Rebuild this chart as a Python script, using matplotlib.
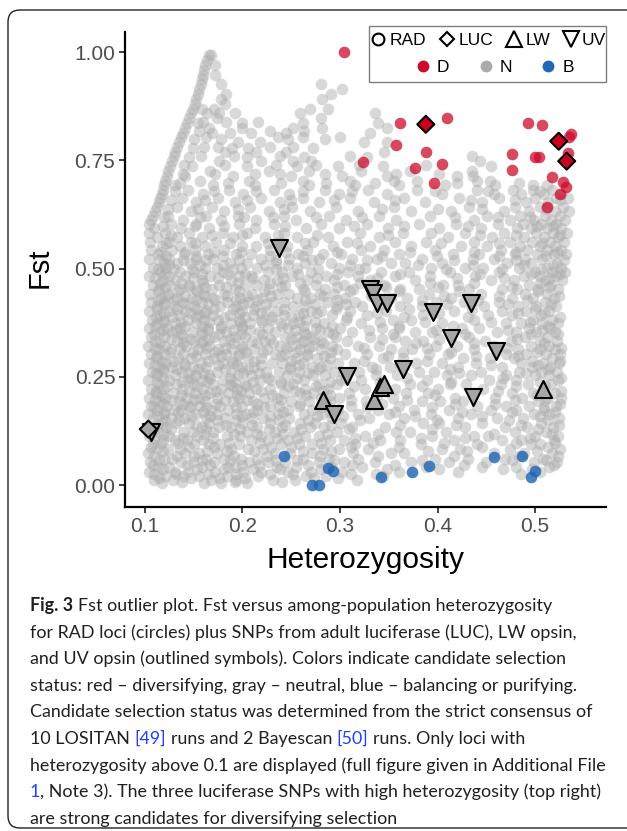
import matplotlib
matplotlib.use('Agg')
import matplotlib.pyplot as plt
from matplotlib.lines import Line2D
from matplotlib.patches import FancyBboxPatch, Rectangle
from matplotlib.transforms import IdentityTransform

# ---- data ----
# red (D) RAD loci
red_x = [0.3041, 0.3615, 0.4094, 0.3574, 0.3882, 0.3233, 0.3766, 0.4049, 0.3964,
         0.4925, 0.5075, 0.5369, 0.4761, 0.5003, 0.5038, 0.5335, 0.4761, 0.5177,
         0.5284, 0.5315, 0.5259, 0.5123, 0.5349]
red_y = [1.000, 0.835, 0.848, 0.785, 0.768, 0.746, 0.732, 0.741, 0.698,
         0.837, 0.831, 0.810, 0.764, 0.757, 0.758, 0.766, 0.727, 0.711,
         0.700, 0.689, 0.672, 0.641, 0.804]

# blue (B) RAD loci
blue_x = [0.2426, 0.2716, 0.2788, 0.2874, 0.2925, 0.3417, 0.3738, 0.3916, 0.4579,
          0.4870, 0.4997, 0.4959]
blue_y = [0.068, 0.001, 0.001, 0.039, 0.032, 0.018, 0.030, 0.044, 0.065,
          0.068, 0.033, 0.019]

# luciferase SNPs (diamonds)
luc_x = [0.388, 0.5243, 0.5325, 0.1034]
luc_y = [0.833, 0.794, 0.748, 0.129]
luc_status = ['D', 'D', 'D', 'N']

# LW opsin SNPs (up triangles)
lw_x = [0.2822, 0.3349, 0.3415, 0.3455, 0.5085]
lw_y = [0.197, 0.196, 0.227, 0.233, 0.222]

# UV opsin SNPs (down triangles)
uv_x = [0.2374, 0.3308, 0.3342, 0.3376, 0.3479, 0.3957, 0.4347, 0.4138, 0.4600,
        0.3643, 0.3075, 0.4361, 0.2938, 0.1060]
uv_y = [0.548, 0.453, 0.443, 0.420, 0.420, 0.400, 0.420, 0.339, 0.310,
        0.267, 0.252, 0.204, 0.165, 0.122]

# gray (N) RAD loci, one row of x values per Fst level
gray_rows = [
    (0.004, [0.117, 0.161, 0.178, 0.205]),
    (0.012, [0.109, 0.129, 0.168, 0.193, 0.231, 0.254, 0.317]),
    (0.021, [0.121, 0.139, 0.155, 0.184, 0.216, 0.265, 0.286, 0.344]),
    (0.031, [0.104, 0.131, 0.144, 0.172, 0.201, 0.219, 0.247, 0.270, 0.302, 0.361, 0.421, 0.505]),
    (0.041, [0.113, 0.125, 0.158, 0.185, 0.192, 0.235, 0.255, 0.291, 0.323, 0.388, 0.446, 0.481, 0.514]),
    (0.052, [0.105, 0.137, 0.149, 0.171, 0.207, 0.226, 0.244, 0.278, 0.304, 0.336, 0.373, 0.412, 0.450, 0.499, 0.523]),
    (0.061, [0.119, 0.128, 0.163, 0.181, 0.198, 0.215, 0.262, 0.289, 0.318, 0.397, 0.431, 0.469, 0.508]),
    (0.073, [0.103, 0.141, 0.155, 0.174, 0.233, 0.249, 0.271, 0.313, 0.352, 0.366, 0.458, 0.489, 0.517]),
    (0.082, [0.112, 0.124, 0.136, 0.188, 0.206, 0.221, 0.283, 0.299, 0.329, 0.405, 0.423, 0.474, 0.526]),
    (0.094, [0.108, 0.150, 0.166, 0.177, 0.196, 0.239, 0.258, 0.271, 0.315, 0.383, 0.441, 0.496, 0.505]),
    (0.103, [0.118, 0.131, 0.143, 0.160, 0.209, 0.226, 0.247, 0.290, 0.304, 0.341, 0.362, 0.417, 0.466, 0.486, 0.519]),
    (0.114, [0.104, 0.125, 0.153, 0.184, 0.197, 0.219, 0.264, 0.278, 0.326, 0.394, 0.437, 0.452, 0.500, 0.524]),
    (0.123, [0.113, 0.139, 0.149, 0.170, 0.205, 0.233, 0.253, 0.297, 0.357, 0.372, 0.409, 0.479, 0.511]),
    (0.134, [0.106, 0.122, 0.158, 0.176, 0.188, 0.215, 0.241, 0.269, 0.284, 0.312, 0.346, 0.428, 0.469, 0.492, 0.518]),
    (0.143, [0.117, 0.132, 0.145, 0.166, 0.199, 0.228, 0.259, 0.274, 0.301, 0.385, 0.402, 0.446, 0.506]),
    (0.154, [0.108, 0.127, 0.141, 0.163, 0.182, 0.210, 0.221, 0.248, 0.292, 0.330, 0.366, 0.421, 0.461, 0.488, 0.525]),
    (0.163, [0.103, 0.119, 0.152, 0.174, 0.193, 0.204, 0.236, 0.263, 0.282, 0.318, 0.350, 0.393, 0.434, 0.499, 0.514]),
    (0.174, [0.112, 0.130, 0.137, 0.168, 0.185, 0.215, 0.247, 0.271, 0.298, 0.339, 0.376, 0.412, 0.455, 0.481, 0.509]),
    (0.183, [0.106, 0.123, 0.147, 0.156, 0.177, 0.200, 0.228, 0.237, 0.258, 0.311, 0.361, 0.440, 0.470, 0.494, 0.522]),
    (0.193, [0.115, 0.135, 0.162, 0.190, 0.211, 0.250, 0.268, 0.290, 0.327, 0.384, 0.403, 0.426, 0.503]),
    (0.202, [0.104, 0.121, 0.143, 0.155, 0.174, 0.196, 0.222, 0.235, 0.281, 0.299, 0.354, 0.418, 0.459, 0.487, 0.513, 0.527]),
    (0.213, [0.111, 0.129, 0.151, 0.167, 0.185, 0.207, 0.243, 0.259, 0.272, 0.309, 0.368, 0.390, 0.437, 0.476, 0.498, 0.520]),
    (0.222, [0.106, 0.118, 0.138, 0.160, 0.178, 0.194, 0.214, 0.228, 0.264, 0.288, 0.326, 0.356, 0.400, 0.447, 0.508]),
    (0.233, [0.114, 0.133, 0.149, 0.170, 0.187, 0.203, 0.239, 0.252, 0.278, 0.297, 0.372, 0.413, 0.429, 0.465, 0.493, 0.516]),
    (0.242, [0.103, 0.125, 0.144, 0.158, 0.180, 0.218, 0.229, 0.263, 0.301, 0.322, 0.389, 0.453, 0.481, 0.524]),
    (0.253, [0.112, 0.131, 0.152, 0.166, 0.195, 0.209, 0.246, 0.272, 0.285, 0.337, 0.358, 0.410, 0.434, 0.470, 0.500, 0.514]),
    (0.262, [0.107, 0.120, 0.138, 0.174, 0.188, 0.224, 0.237, 0.258, 0.294, 0.319, 0.381, 0.396, 0.445, 0.484, 0.506, 0.523]),
    (0.273, [0.115, 0.128, 0.149, 0.163, 0.199, 0.212, 0.249, 0.271, 0.281, 0.333, 0.351, 0.421, 0.466, 0.497, 0.515]),
    (0.282, [0.104, 0.122, 0.140, 0.157, 0.180, 0.190, 0.230, 0.241, 0.262, 0.298, 0.314, 0.378, 0.405, 0.439, 0.486, 0.508, 0.525]),
    (0.293, [0.111, 0.134, 0.147, 0.171, 0.206, 0.219, 0.255, 0.276, 0.290, 0.344, 0.365, 0.426, 0.454, 0.478, 0.517]),
    (0.302, [0.106, 0.119, 0.139, 0.162, 0.183, 0.196, 0.233, 0.244, 0.266, 0.305, 0.328, 0.391, 0.411, 0.470, 0.491, 0.511, 0.526]),
    (0.313, [0.114, 0.127, 0.154, 0.175, 0.189, 0.212, 0.225, 0.259, 0.280, 0.297, 0.352, 0.374, 0.437, 0.483, 0.505, 0.520]),
    (0.322, [0.103, 0.121, 0.142, 0.166, 0.200, 0.238, 0.250, 0.271, 0.292, 0.318, 0.340, 0.398, 0.420, 0.458, 0.496, 0.514]),
    (0.333, [0.110, 0.133, 0.150, 0.160, 0.181, 0.210, 0.222, 0.262, 0.280, 0.307, 0.367, 0.385, 0.449, 0.475, 0.505, 0.523]),
    (0.342, [0.106, 0.119, 0.139, 0.171, 0.192, 0.203, 0.244, 0.255, 0.270, 0.296, 0.331, 0.356, 0.414, 0.432, 0.490, 0.512]),
    (0.353, [0.115, 0.128, 0.148, 0.157, 0.183, 0.217, 0.233, 0.263, 0.288, 0.312, 0.377, 0.394, 0.461, 0.481, 0.501, 0.521]),
    (0.362, [0.104, 0.123, 0.136, 0.165, 0.178, 0.199, 0.226, 0.247, 0.275, 0.300, 0.343, 0.360, 0.425, 0.443, 0.494, 0.515]),
    (0.373, [0.112, 0.131, 0.152, 0.188, 0.208, 0.239, 0.252, 0.284, 0.322, 0.405, 0.470, 0.486, 0.507, 0.524]),
    (0.382, [0.107, 0.120, 0.144, 0.161, 0.175, 0.196, 0.219, 0.229, 0.265, 0.306, 0.354, 0.373, 0.437, 0.498, 0.517]),
    (0.393, [0.115, 0.135, 0.155, 0.170, 0.187, 0.211, 0.243, 0.258, 0.292, 0.328, 0.385, 0.452, 0.476, 0.506]),
    (0.402, [0.104, 0.125, 0.141, 0.163, 0.200, 0.224, 0.235, 0.270, 0.281, 0.310, 0.347, 0.417, 0.466, 0.491, 0.514]),
    (0.413, [0.112, 0.130, 0.150, 0.177, 0.193, 0.214, 0.252, 0.263, 0.297, 0.323, 0.362, 0.384, 0.448, 0.483, 0.501, 0.522]),
    (0.422, [0.106, 0.120, 0.139, 0.158, 0.184, 0.206, 0.231, 0.243, 0.287, 0.315, 0.398, 0.427, 0.463, 0.510]),
    (0.433, [0.116, 0.133, 0.148, 0.170, 0.197, 0.220, 0.256, 0.270, 0.305, 0.352, 0.369, 0.414, 0.476, 0.498, 0.519]),
    (0.442, [0.105, 0.124, 0.160, 0.181, 0.210, 0.236, 0.248, 0.279, 0.294, 0.333, 0.391, 0.445, 0.490, 0.512]),
    (0.453, [0.114, 0.136, 0.152, 0.169, 0.192, 0.227, 0.262, 0.285, 0.313, 0.362, 0.381, 0.432, 0.466, 0.482, 0.503, 0.524]),
    (0.462, [0.108, 0.126, 0.145, 0.176, 0.203, 0.214, 0.244, 0.275, 0.304, 0.345, 0.406, 0.421, 0.494, 0.516]),
    (0.473, [0.118, 0.131, 0.158, 0.188, 0.222, 0.235, 0.266, 0.294, 0.331, 0.377, 0.455, 0.478, 0.510, 0.528]),
    (0.482, [0.104, 0.125, 0.141, 0.167, 0.196, 0.209, 0.251, 0.286, 0.318, 0.356, 0.392, 0.438, 0.489, 0.505, 0.522]),
    (0.493, [0.115, 0.136, 0.150, 0.180, 0.226, 0.241, 0.270, 0.308, 0.342, 0.371, 0.413, 0.463, 0.500, 0.517, 0.531]),
    (0.502, [0.108, 0.121, 0.162, 0.174, 0.198, 0.215, 0.256, 0.299, 0.326, 0.393, 0.428, 0.447, 0.484, 0.512, 0.527]),
    (0.513, [0.119, 0.133, 0.146, 0.187, 0.205, 0.234, 0.264, 0.291, 0.352, 0.367, 0.405, 0.471, 0.496, 0.523]),
    (0.522, [0.104, 0.125, 0.152, 0.170, 0.219, 0.248, 0.278, 0.312, 0.338, 0.384, 0.436, 0.458, 0.490, 0.507]),
    (0.533, [0.113, 0.140, 0.165, 0.193, 0.209, 0.257, 0.283, 0.301, 0.360, 0.416, 0.443, 0.479, 0.502, 0.519, 0.532]),
    (0.542, [0.106, 0.128, 0.151, 0.181, 0.228, 0.266, 0.322, 0.345, 0.397, 0.465, 0.492, 0.512, 0.527]),
    (0.553, [0.117, 0.136, 0.162, 0.199, 0.214, 0.246, 0.293, 0.331, 0.373, 0.424, 0.451, 0.485, 0.505, 0.521]),
    (0.562, [0.105, 0.125, 0.147, 0.173, 0.237, 0.272, 0.307, 0.356, 0.388, 0.437, 0.474, 0.497, 0.515, 0.530]),
    (0.573, [0.112, 0.133, 0.158, 0.190, 0.223, 0.256, 0.288, 0.340, 0.411, 0.456, 0.489, 0.509, 0.524]),
    (0.582, [0.104, 0.121, 0.145, 0.180, 0.205, 0.243, 0.320, 0.365, 0.393, 0.428, 0.468, 0.501, 0.518, 0.533]),
    (0.593, [0.109, 0.137, 0.166, 0.213, 0.265, 0.299, 0.349, 0.402, 0.445, 0.482, 0.496, 0.512, 0.527]),
    (0.603, [0.104, 0.127, 0.152, 0.196, 0.232, 0.281, 0.328, 0.381, 0.419, 0.462, 0.488, 0.506, 0.522]),
    (0.613, [0.106, 0.139, 0.178, 0.214, 0.255, 0.306, 0.357, 0.437, 0.474, 0.499, 0.516, 0.531]),
    (0.622, [0.108, 0.124, 0.163, 0.195, 0.243, 0.289, 0.340, 0.392, 0.451, 0.485, 0.510, 0.526]),
    (0.633, [0.110, 0.147, 0.181, 0.227, 0.269, 0.318, 0.373, 0.414, 0.468, 0.494, 0.520, 0.535]),
    (0.642, [0.112, 0.133, 0.169, 0.208, 0.251, 0.296, 0.355, 0.432, 0.479, 0.505, 0.529]),
    (0.653, [0.114, 0.152, 0.192, 0.238, 0.278, 0.335, 0.387, 0.446, 0.491, 0.513]),
    (0.662, [0.115, 0.138, 0.175, 0.219, 0.262, 0.310, 0.366, 0.422, 0.463, 0.500, 0.522, 0.534]),
    (0.673, [0.117, 0.159, 0.201, 0.248, 0.299, 0.348, 0.405, 0.458, 0.486, 0.509, 0.527]),
    (0.682, [0.118, 0.144, 0.186, 0.232, 0.285, 0.329, 0.379, 0.440, 0.477, 0.498, 0.517]),
    (0.693, [0.120, 0.131, 0.170, 0.213, 0.268, 0.315, 0.361, 0.408, 0.459, 0.498, 0.512]),
    (0.703, [0.121, 0.156, 0.207, 0.262, 0.310, 0.355, 0.379, 0.440, 0.454]),
    (0.714, [0.123, 0.141, 0.190, 0.250, 0.302, 0.348, 0.420, 0.436]),
    (0.725, [0.124, 0.167, 0.227, 0.268, 0.322, 0.372, 0.435]),
    (0.737, [0.126, 0.148, 0.205, 0.256, 0.298, 0.344, 0.455]),
    (0.748, [0.128, 0.176, 0.219, 0.252, 0.270, 0.444]),
    (0.759, [0.130, 0.157, 0.191, 0.238, 0.310, 0.435]),
    (0.770, [0.131, 0.182, 0.214, 0.245, 0.345]),
    (0.781, [0.133, 0.161, 0.175, 0.228, 0.252]),
    (0.792, [0.135, 0.195, 0.218, 0.325, 0.348]),
    (0.803, [0.137, 0.163, 0.236, 0.262, 0.300]),
    (0.814, [0.139, 0.169, 0.187, 0.209, 0.245, 0.331]),
    (0.825, [0.141, 0.166, 0.200, 0.252, 0.282, 0.348]),
    (0.836, [0.143, 0.154, 0.199, 0.262, 0.339]),
    (0.847, [0.145, 0.174, 0.281]),
    (0.858, [0.147, 0.192, 0.259, 0.336]),
    (0.869, [0.149, 0.158, 0.171, 0.269, 0.288]),
    (0.880, [0.151, 0.182]),
    (0.891, [0.152, 0.178, 0.282]),
    (0.903, [0.154, 0.183, 0.291]),
    (0.914, [0.155, 0.302]),
    (0.925, [0.157, 0.178, 0.281]),
    (0.937, [0.158]),
    (0.948, [0.160, 0.172]),
    (0.959, [0.161]),
    (0.970, [0.162, 0.172]),
    (0.981, [0.164]),
    (0.992, [0.166, 0.168]),
]

# more gray loci lying between the rows above (the dense part of the cloud)
gray_rows_fill = [
    (0.007, [0.138, 0.192, 0.241]),
    (0.016, [0.114, 0.147, 0.176, 0.203, 0.273, 0.298]),
    (0.026, [0.109, 0.132, 0.165, 0.193, 0.228, 0.252, 0.311, 0.337, 0.486]),
    (0.036, [0.118, 0.153, 0.181, 0.211, 0.238, 0.281, 0.348, 0.402, 0.467, 0.497]),
    (0.047, [0.108, 0.143, 0.167, 0.199, 0.217, 0.267, 0.312, 0.356, 0.427, 0.519]),
    (0.057, [0.114, 0.158, 0.187, 0.234, 0.256, 0.294, 0.384, 0.476, 0.511]),
    (0.068, [0.109, 0.133, 0.150, 0.191, 0.225, 0.279, 0.339, 0.417, 0.484, 0.524]),
    (0.078, [0.118, 0.164, 0.184, 0.212, 0.262, 0.291, 0.390, 0.430, 0.502]),
    (0.088, [0.106, 0.145, 0.171, 0.229, 0.250, 0.311, 0.361, 0.446, 0.513]),
    (0.098, [0.116, 0.134, 0.186, 0.218, 0.280, 0.334, 0.407, 0.481, 0.520]),
    (0.109, [0.109, 0.139, 0.170, 0.235, 0.256, 0.315, 0.383, 0.428, 0.495]),
    (0.118, [0.120, 0.161, 0.191, 0.215, 0.242, 0.287, 0.339, 0.458, 0.517]),
    (0.129, [0.109, 0.127, 0.163, 0.197, 0.227, 0.260, 0.309, 0.394, 0.503]),
    (0.139, [0.112, 0.152, 0.183, 0.210, 0.244, 0.291, 0.362, 0.419, 0.486, 0.525]),
    (0.149, [0.121, 0.135, 0.174, 0.193, 0.237, 0.267, 0.320, 0.399, 0.473, 0.513]),
    (0.159, [0.113, 0.147, 0.167, 0.199, 0.228, 0.276, 0.303, 0.377, 0.446, 0.505]),
    (0.169, [0.119, 0.134, 0.159, 0.211, 0.242, 0.290, 0.356, 0.425, 0.476, 0.521]),
    (0.179, [0.109, 0.145, 0.163, 0.193, 0.222, 0.280, 0.328, 0.394, 0.509]),
    (0.188, [0.118, 0.139, 0.173, 0.215, 0.259, 0.286, 0.343, 0.418, 0.459, 0.526]),
    (0.197, [0.110, 0.128, 0.150, 0.182, 0.205, 0.239, 0.311, 0.369, 0.479, 0.510]),
    (0.207, [0.117, 0.137, 0.162, 0.194, 0.230, 0.265, 0.290, 0.338, 0.397, 0.502]),
    (0.217, [0.111, 0.145, 0.173, 0.198, 0.219, 0.254, 0.283, 0.347, 0.462, 0.527]),
    (0.228, [0.123, 0.153, 0.189, 0.204, 0.247, 0.275, 0.314, 0.384, 0.481, 0.510]),
    (0.238, [0.112, 0.138, 0.164, 0.192, 0.211, 0.240, 0.290, 0.341, 0.414, 0.505]),
    (0.248, [0.118, 0.147, 0.167, 0.187, 0.226, 0.256, 0.306, 0.369, 0.467, 0.527]),
    (0.258, [0.111, 0.144, 0.160, 0.201, 0.217, 0.267, 0.303, 0.422, 0.491]),
    (0.268, [0.118, 0.133, 0.154, 0.182, 0.206, 0.249, 0.277, 0.337, 0.413, 0.513]),
    (0.277, [0.110, 0.141, 0.175, 0.194, 0.219, 0.258, 0.287, 0.362, 0.455, 0.503]),
    (0.287, [0.117, 0.129, 0.165, 0.189, 0.212, 0.250, 0.325, 0.389, 0.497, 0.526]),
    (0.297, [0.112, 0.152, 0.178, 0.195, 0.240, 0.266, 0.284, 0.349, 0.439, 0.483]),
    (0.307, [0.126, 0.149, 0.172, 0.204, 0.221, 0.255, 0.291, 0.365, 0.414, 0.502]),
    (0.317, [0.110, 0.136, 0.163, 0.182, 0.201, 0.245, 0.268, 0.325, 0.389, 0.471, 0.527]),
    (0.327, [0.115, 0.139, 0.157, 0.191, 0.215, 0.231, 0.260, 0.283, 0.378, 0.437, 0.509]),
    (0.337, [0.127, 0.147, 0.166, 0.187, 0.228, 0.250, 0.273, 0.343, 0.402, 0.482]),
    (0.348, [0.109, 0.137, 0.158, 0.176, 0.198, 0.220, 0.265, 0.293, 0.354, 0.428, 0.496, 0.524]),
    (0.358, [0.118, 0.132, 0.165, 0.190, 0.208, 0.254, 0.279, 0.330, 0.398, 0.472, 0.507]),
    (0.367, [0.110, 0.141, 0.158, 0.178, 0.200, 0.241, 0.263, 0.292, 0.360, 0.416, 0.513]),
    (0.377, [0.119, 0.137, 0.166, 0.197, 0.220, 0.258, 0.274, 0.341, 0.387, 0.455, 0.495]),
    (0.387, [0.111, 0.128, 0.152, 0.181, 0.203, 0.230, 0.250, 0.307, 0.366, 0.431, 0.526]),
    (0.397, [0.120, 0.146, 0.161, 0.196, 0.219, 0.262, 0.276, 0.338, 0.402, 0.483, 0.509]),
    (0.407, [0.112, 0.133, 0.152, 0.171, 0.190, 0.212, 0.243, 0.296, 0.371, 0.435, 0.500]),
    (0.417, [0.119, 0.141, 0.165, 0.201, 0.224, 0.274, 0.306, 0.344, 0.410, 0.472, 0.516]),
    (0.427, [0.113, 0.130, 0.152, 0.172, 0.193, 0.215, 0.264, 0.297, 0.384, 0.442, 0.492]),
    (0.437, [0.124, 0.141, 0.162, 0.184, 0.205, 0.229, 0.283, 0.332, 0.407, 0.463, 0.525]),
    (0.447, [0.113, 0.134, 0.153, 0.196, 0.222, 0.264, 0.310, 0.361, 0.422, 0.503]),
    (0.457, [0.121, 0.145, 0.162, 0.183, 0.240, 0.297, 0.347, 0.401, 0.476, 0.514]),
    (0.467, [0.115, 0.137, 0.159, 0.195, 0.228, 0.259, 0.320, 0.392, 0.437, 0.505]),
    (0.478, [0.110, 0.149, 0.175, 0.211, 0.242, 0.276, 0.338, 0.420, 0.468, 0.515]),
    (0.488, [0.121, 0.158, 0.185, 0.203, 0.257, 0.297, 0.362, 0.444, 0.496, 0.526]),
    (0.498, [0.113, 0.130, 0.148, 0.190, 0.234, 0.277, 0.319, 0.409, 0.466, 0.506]),
    (0.508, [0.125, 0.156, 0.180, 0.223, 0.247, 0.310, 0.380, 0.436, 0.489, 0.518]),
    (0.519, [0.114, 0.139, 0.163, 0.196, 0.234, 0.271, 0.328, 0.417, 0.480, 0.530]),
    (0.529, [0.122, 0.152, 0.180, 0.228, 0.262, 0.343, 0.399, 0.463, 0.511]),
    (0.538, [0.116, 0.141, 0.171, 0.198, 0.245, 0.297, 0.372, 0.437, 0.480, 0.523]),
    (0.558, [0.122, 0.151, 0.187, 0.226, 0.264, 0.317, 0.404, 0.463, 0.507]),
    (0.578, [0.127, 0.169, 0.199, 0.236, 0.276, 0.349, 0.444, 0.480, 0.526]),
    (0.598, [0.118, 0.151, 0.181, 0.244, 0.314, 0.366, 0.431, 0.502, 0.518]),
    (0.618, [0.119, 0.156, 0.202, 0.231, 0.275, 0.323, 0.418, 0.462, 0.495]),
    (0.638, [0.124, 0.154, 0.195, 0.243, 0.343, 0.401, 0.446, 0.511]),
    (0.658, [0.127, 0.162, 0.205, 0.250, 0.294, 0.356, 0.434, 0.479, 0.526]),
    (0.678, [0.131, 0.171, 0.214, 0.262, 0.312, 0.397, 0.452, 0.505]),
    (0.698, [0.136, 0.185, 0.240, 0.286, 0.336, 0.420, 0.484]),
    (0.718, [0.139, 0.172, 0.213, 0.238, 0.285, 0.357, 0.402]),
    (0.738, [0.140, 0.182, 0.234, 0.275, 0.319, 0.388]),
    (0.758, [0.145, 0.205, 0.263, 0.328]),
    (0.778, [0.149, 0.189, 0.206, 0.272]),
    (0.798, [0.150, 0.178, 0.247, 0.285]),
    (0.818, [0.155, 0.228, 0.263]),
    (0.838, [0.160, 0.183, 0.216]),
    (0.858, [0.164, 0.176]),
]

gray_x = [x for y, xs in gray_rows + gray_rows_fill for x in xs]
gray_y = [y for y, xs in gray_rows + gray_rows_fill for x in xs]

xticks = [0.1, 0.2, 0.3, 0.4, 0.5]
yticks = [0.00, 0.25, 0.50, 0.75, 1.00]

caption_lines = [
    [('', 'Fig. 3', 'bold'), (' ', 'Fst outlier plot. Fst versus among-population heterozygosity', 'text')],
    [('', 'for RAD loci (circles) plus SNPs from adult luciferase (LUC), LW opsin,', 'text')],
    [('', 'and UV opsin (outlined symbols). Colors indicate candidate selection', 'text')],
    [('', 'status: red \u2013 diversifying, gray \u2013 neutral, blue \u2013 balancing or purifying.', 'text')],
    [('', 'Candidate selection status was determined from the strict consensus of', 'text')],
    [('', '10 LOSITAN', 'text'), (' ', '[49]', 'link'), (' ', 'runs and 2 Bayescan', 'text'),
     (' ', '[50]', 'link'), (' ', 'runs. Only loci with', 'text')],
    [('', 'heterozygosity above 0.1 are displayed (full figure given in Additional File', 'text')],
    [('', '1', 'link'), ('', ', Note 3). The three luciferase SNPs with high heterozygosity (top right)', 'text')],
    [('', 'are strong candidates for diversifying selection', 'text')],
]
# right end of the full-width caption lines in the reference (pixels)
caption_ends = {0: 605, 1: 607, 2: 607, 3: 603, 4: 605, 6: 607, 7: 605}

# ---- styles ----
col = {'D': '#cc0a2a', 'N': '#aaaaaa', 'B': '#1f66b3'}
plot_font = 'Liberation Sans'
cap_font = 'Lato'

W, H = 627, 831
fig = plt.figure(figsize=(W / 100, H / 100), dpi=100)
ax = fig.add_axes([125 / W, 1 - 507 / H, 481 / W, 475 / H])

ax.scatter(gray_x, gray_y, s=70, c=col['N'], alpha=0.45, linewidths=0, zorder=2)
ax.scatter(blue_x, blue_y, s=70, c=col['B'], alpha=0.82, linewidths=0, zorder=3)
ax.scatter(red_x, red_y, s=70, c=col['D'], alpha=0.75, linewidths=0, zorder=3)

ax.scatter(lw_x, lw_y, s=150, marker='^', c='#a6a6a6', edgecolors='black',
           linewidths=1.5, zorder=4)
ax.scatter(uv_x, uv_y, s=150, marker='v', c='#a6a6a6', edgecolors='black',
           linewidths=1.5, zorder=4)
luc_fill = ['#c8001e' if s == 'D' else '#a6a6a6' for s in luc_status]
ax.scatter(luc_x, luc_y, s=75, marker='D', c=luc_fill, edgecolors='black',
           linewidths=1.5, zorder=5)

ax.set_xlim(0.0795, 0.5728)
ax.set_ylim(-0.0508, 1.0462)
ax.set_xticks(xticks)
ax.set_xticklabels([f'{v:.1f}' for v in xticks])
ax.set_yticks(yticks)
ax.set_yticklabels([f'{v:.2f}' for v in yticks])
for s in ['top', 'right']:
    ax.spines[s].set_visible(False)
for s in ['left', 'bottom']:
    ax.spines[s].set_linewidth(1.6)
    ax.spines[s].set_color('black')
ax.tick_params(length=4, width=1.3, color='#333333', labelcolor='#4d4d4d',
               labelsize=15, pad=3)
for lab in ax.get_xticklabels() + ax.get_yticklabels():
    lab.set_family(plot_font)

ax.text(0.5, -0.112, 'Heterozygosity', transform=ax.transAxes, ha='center',
        va='center', fontsize=21.5, family=plot_font, color='black')
ax.text(-0.177, 0.503, 'Fst', transform=ax.transAxes, ha='center', va='center',
        rotation=90, fontsize=21, family=plot_font, color='black')

# ---- legend ----
fig.patches.append(Rectangle((369 / W, 1 - 82 / H), 237 / W, 56 / H,
                             transform=fig.transFigure, fill=False,
                             edgecolor='#7f7f7f', linewidth=1.0))
shape_handles = [
    Line2D([], [], ls='', marker='o', ms=8.5, mfc='white', mec='black', mew=1.5),
    Line2D([], [], ls='', marker='D', ms=7.0, mfc='white', mec='black', mew=1.5),
    Line2D([], [], ls='', marker='^', ms=12, mfc='white', mec='black', mew=1.5),
    Line2D([], [], ls='', marker='v', ms=12, mfc='white', mec='black', mew=1.5),
]
leg1 = fig.legend(shape_handles, ['RAD', 'LUC', 'LW', 'UV'], ncol=4, frameon=False,
                  loc='center', bbox_to_anchor=(488 / W, 1 - 40 / H),
                  handlelength=1.0, handletextpad=0.15, columnspacing=0.7,
                  prop={'family': plot_font, 'size': 12.5}, borderpad=0)
color_handles = [Line2D([], [], ls='', marker='o', ms=8.5, mfc=col[k], mec='none')
                 for k in ['D', 'N', 'B']]
leg2 = fig.legend(color_handles, ['D', 'N', 'B'], ncol=3, frameon=False,
                  loc='center', bbox_to_anchor=(494 / W, 1 - 67 / H),
                  handlelength=1.0, handletextpad=0.3, columnspacing=1.6,
                  prop={'family': plot_font, 'size': 12.5}, borderpad=0)

# ---- outer frame ----
fig.patches.append(FancyBboxPatch((8, 3), 650, 818, boxstyle='round,pad=0,rounding_size=12',
                                  transform=IdentityTransform(), fill=False,
                                  edgecolor='#222222', linewidth=1.0))

# ---- caption ----
renderer = fig.canvas.get_renderer()
cap_color = {'bold': '#231f20', 'text': '#231f20', 'link': '#2040ff'}


def text_width(s, size, weight='normal'):
    t = fig.text(0, 0, s, fontsize=size, family=cap_font, weight=weight)
    w = t.get_window_extent(renderer).width
    t.remove()
    return w


def line_width(parts, size):
    w = 0
    for sep, s, kind in parts:
        if sep:
            w += text_width('x x', size) - text_width('xx', size)
        w += text_width(s, size, 'bold' if kind == 'bold' else 'normal')
    return w


x0 = 30
base = 14
cap_size = min(base * (end - x0) / line_width(caption_lines[i], base)
               for i, end in caption_ends.items())
for i, parts in enumerate(caption_lines):
    x = x0
    y = 611 + 26.6 * i
    for sep, s, kind in parts:
        if sep:
            x += text_width('x x', cap_size) - text_width('xx', cap_size)
        weight = 'bold' if kind == 'bold' else 'normal'
        fig.text(x / W, 1 - y / H, s, fontsize=cap_size, family=cap_font,
                 weight=weight, color=cap_color[kind], va='baseline', ha='left')
        x += text_width(s, cap_size, weight)

fig.savefig('out.png', dpi=100)
